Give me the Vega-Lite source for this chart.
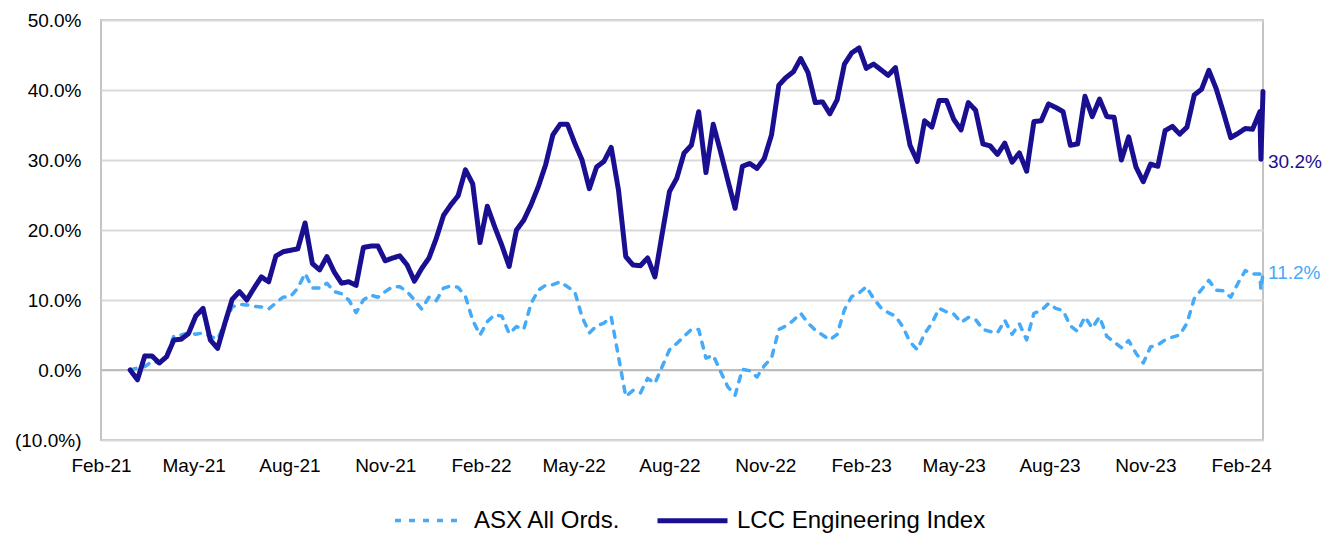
{
  "$schema": "https://vega.github.io/schema/vega-lite/v6.json",
  "width": 1162,
  "height": 420,
  "autosize": {"type": "none"},
  "padding": {"left": 101, "top": 20, "right": 72, "bottom": 94},
  "background": "#ffffff",
  "config": {
    "font": "Liberation Sans",
    "view": {"stroke": "#c4c4c4", "strokeWidth": 2},
    "axisY": {"grid": true, "gridColor": "#d9d9d9", "gridWidth": 2, "domain": false, "ticks": false, "labelFontSize": 19, "labelColor": "#000000", "labelPadding": 20, "labelFont": "Liberation Sans"},
    "axisX": {"grid": false, "domain": false, "ticks": false, "labelFontSize": 19, "labelColor": "#000000", "labelPadding": 16, "labelFlush": false, "labelOverlap": false, "labelFont": "Liberation Sans"},
    "legend": {"orient": "none", "legendX": 292, "legendY": 463, "direction": "horizontal", "symbolType": "stroke", "symbolSize": 4900, "symbolStrokeWidth": 4, "labelFontSize": 24, "labelColor": "#000000", "labelOffset": 7, "columnPadding": 26, "labelFont": "Liberation Sans", "labelLimit": 400}
  },
  "layer": [
    {
      "data": {"values": [{"zero": 0}]},
      "mark": {"type": "rule", "color": "#bdbdbd", "strokeWidth": 2},
      "encoding": {
        "y": {"field": "zero", "type": "quantitative", "title": null}
      }
    },
    {
      "encoding": {
        "x": {
          "field": "date", "type": "temporal", "title": null,
          "scale": {"type": "utc", "domain": [1612137600000, 1708560000000]},
          "axis": {
            "values": [1612137600000, 1619827200000, 1627776000000, 1635724800000, 1643673600000, 1651363200000, 1659312000000, 1667260800000, 1675209600000, 1682899200000, 1690848000000, 1698796800000, 1706745600000],
            "labelExpr": "utcFormat(datum.value, '%b-%y')"
          }
        },
        "y": {
          "field": "value", "type": "quantitative", "title": null,
          "scale": {"domain": [-10, 50], "nice": false, "zero": false},
          "axis": {
            "values": [-10, 0, 10, 20, 30, 40, 50],
            "labelExpr": "datum.value < 0 ? '(' + format(-datum.value, '.1f') + '%)' : format(datum.value, '.1f') + '%'"
          }
        }
      },
      "layer": [
        {
          "data": {"values": [
            {"date":"2021-03-01","asx":0.0,"lcc":0.0},
            {"date":"2021-03-08","asx":0.3,"lcc":-1.4},
            {"date":"2021-03-15","asx":0.5,"lcc":2.0},
            {"date":"2021-03-22","asx":1.2,"lcc":2.0},
            {"date":"2021-03-29","asx":1.0,"lcc":1.0},
            {"date":"2021-04-05","asx":2.0,"lcc":1.9},
            {"date":"2021-04-12","asx":4.9,"lcc":4.3},
            {"date":"2021-04-19","asx":5.0,"lcc":4.4},
            {"date":"2021-04-26","asx":5.3,"lcc":5.2},
            {"date":"2021-05-03","asx":5.1,"lcc":7.7},
            {"date":"2021-05-10","asx":5.3,"lcc":8.8},
            {"date":"2021-05-17","asx":4.8,"lcc":4.3},
            {"date":"2021-05-24","asx":4.4,"lcc":3.1},
            {"date":"2021-05-31","asx":6.7,"lcc":6.7},
            {"date":"2021-06-07","asx":9.0,"lcc":10.1},
            {"date":"2021-06-14","asx":9.4,"lcc":11.2},
            {"date":"2021-06-21","asx":9.3,"lcc":10.0},
            {"date":"2021-06-28","asx":9.1,"lcc":11.7},
            {"date":"2021-07-05","asx":9.0,"lcc":13.3},
            {"date":"2021-07-12","asx":8.7,"lcc":12.6},
            {"date":"2021-07-19","asx":9.6,"lcc":16.3},
            {"date":"2021-07-26","asx":10.4,"lcc":16.9},
            {"date":"2021-08-02","asx":10.5,"lcc":17.1},
            {"date":"2021-08-09","asx":11.7,"lcc":17.3},
            {"date":"2021-08-16","asx":13.8,"lcc":21.0},
            {"date":"2021-08-23","asx":11.7,"lcc":15.2},
            {"date":"2021-08-30","asx":11.7,"lcc":14.3},
            {"date":"2021-09-06","asx":12.4,"lcc":16.2},
            {"date":"2021-09-13","asx":11.2,"lcc":14.0},
            {"date":"2021-09-20","asx":10.9,"lcc":12.4},
            {"date":"2021-09-27","asx":10.0,"lcc":12.6},
            {"date":"2021-10-04","asx":8.2,"lcc":12.1},
            {"date":"2021-10-11","asx":10.0,"lcc":17.5},
            {"date":"2021-10-18","asx":10.7,"lcc":17.7},
            {"date":"2021-10-25","asx":10.4,"lcc":17.7},
            {"date":"2021-11-01","asx":11.2,"lcc":15.6},
            {"date":"2021-11-08","asx":11.9,"lcc":16.0},
            {"date":"2021-11-15","asx":11.9,"lcc":16.3},
            {"date":"2021-11-22","asx":11.2,"lcc":15.0},
            {"date":"2021-11-29","asx":10.0,"lcc":12.7},
            {"date":"2021-12-06","asx":8.7,"lcc":14.5},
            {"date":"2021-12-13","asx":10.4,"lcc":16.0},
            {"date":"2021-12-20","asx":9.9,"lcc":18.8},
            {"date":"2021-12-27","asx":11.7,"lcc":22.1},
            {"date":"2022-01-03","asx":12.0,"lcc":23.6},
            {"date":"2022-01-10","asx":11.8,"lcc":24.9},
            {"date":"2022-01-17","asx":10.5,"lcc":28.6},
            {"date":"2022-01-24","asx":7.1,"lcc":26.6},
            {"date":"2022-01-31","asx":5.0,"lcc":18.2},
            {"date":"2022-02-07","asx":6.9,"lcc":23.4},
            {"date":"2022-02-14","asx":7.9,"lcc":20.5},
            {"date":"2022-02-21","asx":7.7,"lcc":17.8},
            {"date":"2022-02-28","asx":5.2,"lcc":14.8},
            {"date":"2022-03-07","asx":6.2,"lcc":20.0},
            {"date":"2022-03-14","asx":5.8,"lcc":21.4},
            {"date":"2022-03-21","asx":9.5,"lcc":23.6},
            {"date":"2022-03-28","asx":11.4,"lcc":26.2},
            {"date":"2022-04-04","asx":12.1,"lcc":29.3},
            {"date":"2022-04-11","asx":12.2,"lcc":33.6},
            {"date":"2022-04-18","asx":12.6,"lcc":35.1},
            {"date":"2022-04-25","asx":11.9,"lcc":35.1},
            {"date":"2022-05-02","asx":11.2,"lcc":32.4},
            {"date":"2022-05-09","asx":7.6,"lcc":30.0},
            {"date":"2022-05-16","asx":5.3,"lcc":25.9},
            {"date":"2022-05-23","asx":6.3,"lcc":29.0},
            {"date":"2022-05-30","asx":6.7,"lcc":29.8},
            {"date":"2022-06-06","asx":7.6,"lcc":31.8},
            {"date":"2022-06-13","asx":1.9,"lcc":25.7},
            {"date":"2022-06-20","asx":-3.8,"lcc":16.2},
            {"date":"2022-06-27","asx":-2.9,"lcc":15.0},
            {"date":"2022-07-04","asx":-3.3,"lcc":14.9},
            {"date":"2022-07-11","asx":-1.2,"lcc":16.0},
            {"date":"2022-07-18","asx":-1.9,"lcc":13.3},
            {"date":"2022-07-25","asx":0.5,"lcc":19.5},
            {"date":"2022-08-01","asx":2.9,"lcc":25.5},
            {"date":"2022-08-08","asx":3.8,"lcc":27.4},
            {"date":"2022-08-15","asx":4.8,"lcc":31.0},
            {"date":"2022-08-22","asx":5.8,"lcc":32.1},
            {"date":"2022-08-29","asx":5.8,"lcc":36.9},
            {"date":"2022-09-05","asx":1.7,"lcc":28.2},
            {"date":"2022-09-12","asx":2.1,"lcc":35.1},
            {"date":"2022-09-19","asx":-0.2,"lcc":31.2},
            {"date":"2022-09-26","asx":-2.4,"lcc":27.1},
            {"date":"2022-10-03","asx":-3.6,"lcc":23.1},
            {"date":"2022-10-10","asx":0.1,"lcc":29.1},
            {"date":"2022-10-17","asx":-0.1,"lcc":29.5},
            {"date":"2022-10-24","asx":-1.0,"lcc":28.8},
            {"date":"2022-10-31","asx":0.6,"lcc":30.2},
            {"date":"2022-11-07","asx":1.7,"lcc":33.6},
            {"date":"2022-11-14","asx":5.8,"lcc":40.7},
            {"date":"2022-11-21","asx":6.3,"lcc":41.8},
            {"date":"2022-11-28","asx":7.1,"lcc":42.6},
            {"date":"2022-12-05","asx":8.1,"lcc":44.5},
            {"date":"2022-12-12","asx":6.7,"lcc":42.5},
            {"date":"2022-12-19","asx":5.7,"lcc":38.2},
            {"date":"2022-12-26","asx":5.0,"lcc":38.3},
            {"date":"2023-01-02","asx":4.3,"lcc":36.6},
            {"date":"2023-01-09","asx":5.1,"lcc":38.6},
            {"date":"2023-01-16","asx":8.6,"lcc":43.7},
            {"date":"2023-01-23","asx":10.5,"lcc":45.3},
            {"date":"2023-01-30","asx":11.0,"lcc":46.0},
            {"date":"2023-02-06","asx":11.9,"lcc":43.1},
            {"date":"2023-02-13","asx":10.2,"lcc":43.7},
            {"date":"2023-02-20","asx":8.9,"lcc":42.9},
            {"date":"2023-02-27","asx":8.2,"lcc":42.1},
            {"date":"2023-03-06","asx":7.7,"lcc":43.2},
            {"date":"2023-03-13","asx":6.2,"lcc":37.6},
            {"date":"2023-03-20","asx":4.0,"lcc":32.1},
            {"date":"2023-03-27","asx":2.9,"lcc":29.8},
            {"date":"2023-04-03","asx":5.2,"lcc":35.6},
            {"date":"2023-04-10","asx":6.7,"lcc":34.7},
            {"date":"2023-04-17","asx":8.8,"lcc":38.5},
            {"date":"2023-04-24","asx":8.3,"lcc":38.5},
            {"date":"2023-05-01","asx":8.0,"lcc":35.8},
            {"date":"2023-05-08","asx":6.8,"lcc":34.3},
            {"date":"2023-05-15","asx":7.5,"lcc":38.2},
            {"date":"2023-05-22","asx":7.2,"lcc":37.1},
            {"date":"2023-05-29","asx":5.8,"lcc":32.3},
            {"date":"2023-06-05","asx":5.5,"lcc":32.0},
            {"date":"2023-06-12","asx":5.3,"lcc":30.8},
            {"date":"2023-06-19","asx":7.1,"lcc":32.4},
            {"date":"2023-06-26","asx":5.1,"lcc":29.7},
            {"date":"2023-07-03","asx":6.6,"lcc":31.0},
            {"date":"2023-07-10","asx":4.3,"lcc":28.4},
            {"date":"2023-07-17","asx":8.1,"lcc":35.5},
            {"date":"2023-07-24","asx":8.5,"lcc":35.6},
            {"date":"2023-07-31","asx":9.5,"lcc":38.0},
            {"date":"2023-08-07","asx":8.8,"lcc":37.5},
            {"date":"2023-08-14","asx":8.5,"lcc":36.9},
            {"date":"2023-08-21","asx":6.3,"lcc":32.1},
            {"date":"2023-08-28","asx":5.5,"lcc":32.3},
            {"date":"2023-09-04","asx":7.6,"lcc":39.1},
            {"date":"2023-09-11","asx":6.0,"lcc":36.2},
            {"date":"2023-09-18","asx":7.6,"lcc":38.7},
            {"date":"2023-09-25","asx":4.8,"lcc":36.2},
            {"date":"2023-10-02","asx":4.0,"lcc":36.1},
            {"date":"2023-10-09","asx":3.2,"lcc":30.0},
            {"date":"2023-10-16","asx":4.2,"lcc":33.3},
            {"date":"2023-10-23","asx":2.4,"lcc":29.0},
            {"date":"2023-10-30","asx":1.0,"lcc":26.9},
            {"date":"2023-11-06","asx":3.3,"lcc":29.4},
            {"date":"2023-11-13","asx":3.6,"lcc":29.1},
            {"date":"2023-11-20","asx":4.3,"lcc":34.2},
            {"date":"2023-11-27","asx":4.7,"lcc":34.8},
            {"date":"2023-12-04","asx":5.0,"lcc":33.7},
            {"date":"2023-12-11","asx":6.7,"lcc":34.7},
            {"date":"2023-12-18","asx":10.2,"lcc":39.3},
            {"date":"2023-12-25","asx":11.5,"lcc":40.1},
            {"date":"2024-01-01","asx":12.8,"lcc":42.8},
            {"date":"2024-01-08","asx":11.4,"lcc":40.2},
            {"date":"2024-01-15","asx":11.3,"lcc":36.8},
            {"date":"2024-01-22","asx":10.4,"lcc":33.2},
            {"date":"2024-01-29","asx":12.4,"lcc":33.8},
            {"date":"2024-02-05","asx":14.2,"lcc":34.5},
            {"date":"2024-02-12","asx":13.7,"lcc":34.4},
            {"date":"2024-02-19","asx":13.7,"lcc":36.9},
            {"date":"2024-02-20","asx":11.5,"lcc":30.1},
            {"date":"2024-02-22","asx":13.9,"lcc":39.8}
          ]},
          "transform": [{"fold": ["asx", "lcc"], "as": ["series", "value"]}],
          "mark": {"type": "line", "strokeCap": "round", "strokeJoin": "round"},
          "encoding": {
            "color": {
              "field": "series", "type": "nominal", "title": null,
              "scale": {"domain": ["asx", "lcc"], "range": ["#45aaf8", "#1a0f91"]},
              "legend": {"labelExpr": "datum.label == 'asx' ? 'ASX All Ords.' : 'LCC Engineering Index'"}
            },
            "strokeDash": {
              "field": "series", "type": "nominal", "title": null,
              "scale": {"domain": ["asx", "lcc"], "range": [[6, 8], [1, 0]]},
              "legend": {"labelExpr": "datum.label == 'asx' ? 'ASX All Ords.' : 'LCC Engineering Index'"}
            },
            "strokeWidth": {
              "field": "series", "type": "ordinal", "legend": null,
              "scale": {"domain": ["asx", "lcc"], "range": [3.5, 5]}
            }
          }
        },
        {
          "data": {"values": [
            {"date": "2024-02-22", "value": 29.7, "label": "30.2%", "series": "lcc"},
            {"date": "2024-02-22", "value": 13.9, "label": "11.2%", "series": "asx"}
          ]},
          "mark": {"type": "text", "align": "left", "baseline": "middle", "dx": 5, "fontSize": 19, "font": "Liberation Sans"},
          "encoding": {
            "text": {"field": "label", "type": "nominal"},
            "color": {"condition": {"test": "datum.series == 'lcc'", "value": "#1a0f91"}, "value": "#45aaf8"}
          }
        }
      ]
    }
  ]
}
